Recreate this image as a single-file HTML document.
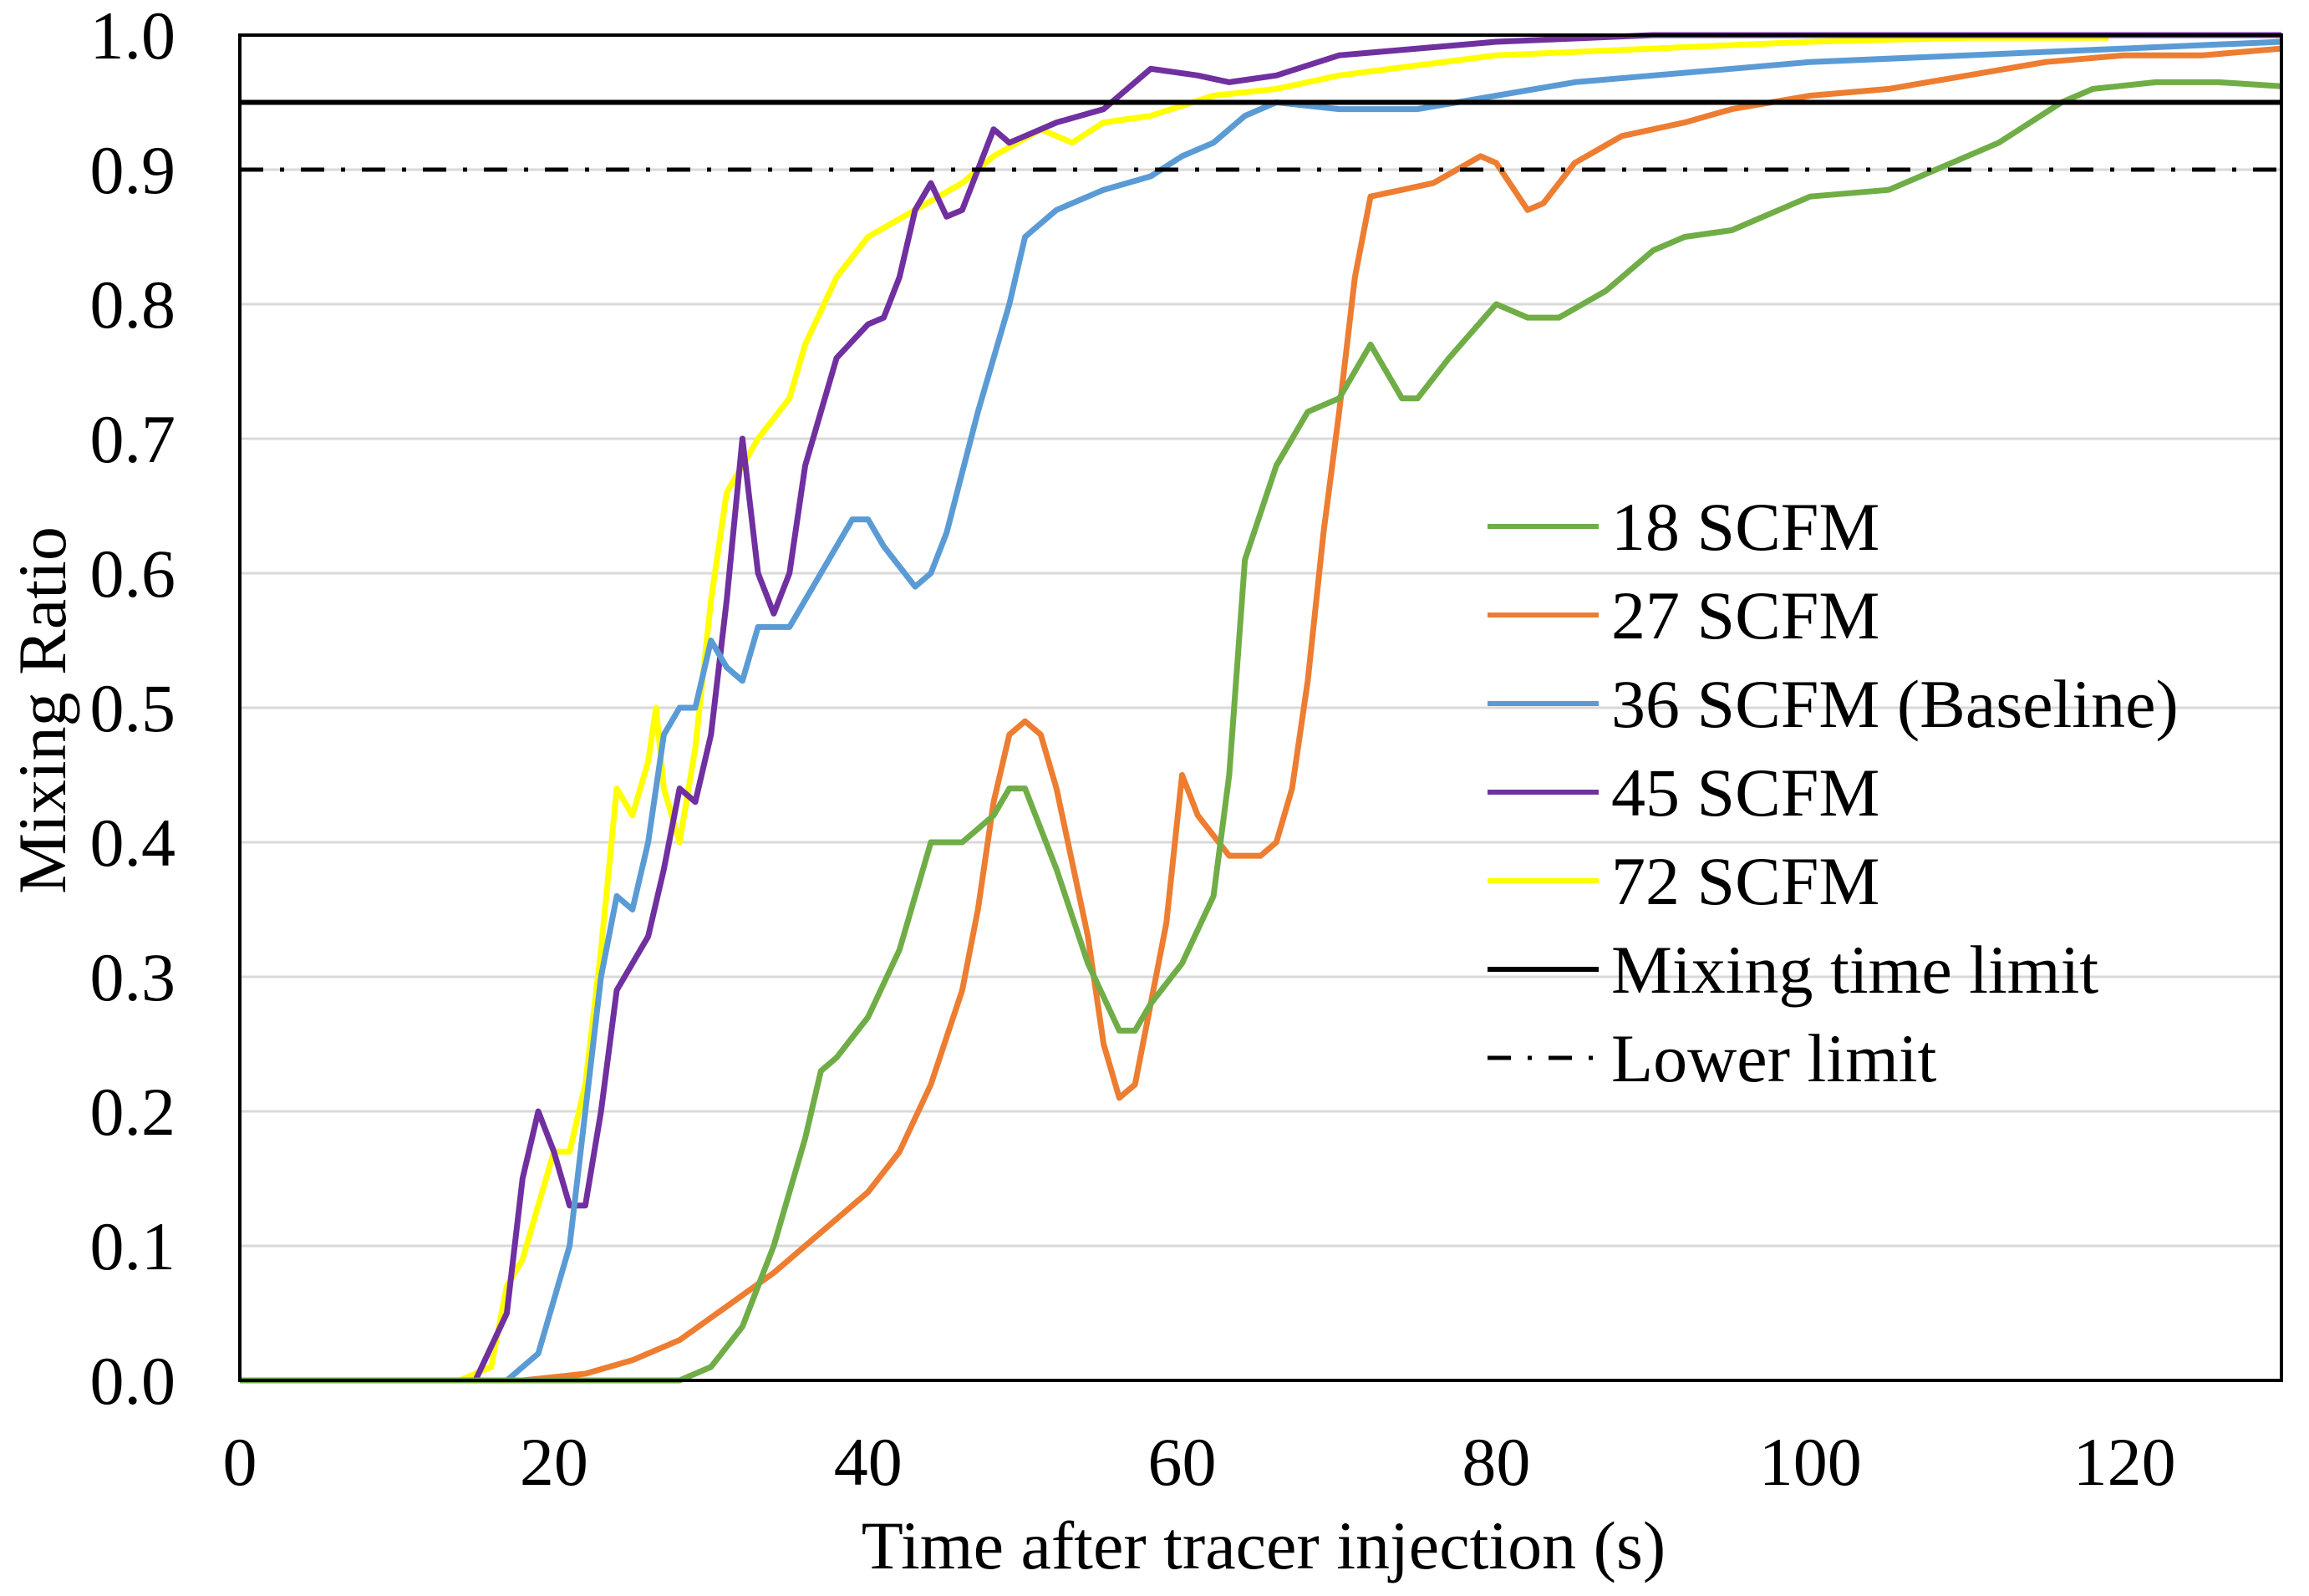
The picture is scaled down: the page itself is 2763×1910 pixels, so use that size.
<!DOCTYPE html>
<html><head><meta charset="utf-8"><style>
html,body{margin:0;padding:0;background:#fff;}
svg{display:block;font-family:"Liberation Serif","Times New Roman",serif;}
</style></head><body>
<svg id="chart" width="2763" height="1910" viewBox="0 0 2763 1910">
<g id="grid"></g>
<g id="series"></g>
<g id="axes"></g>
<g id="legend"></g>
</svg>
<script>
const yTicks=[0,0.1,0.2,0.3,0.4,0.5,0.6,0.7,0.8,0.9,1.0];
const xTicks=[0,20,40,60,80,100,120];
const mixingLimit=0.95;
const lowerLimit=0.90;
const t18=[0,28,30,32,34,36,37,38,40,42,44,46,48,49,50,52,54,56,57,58,60,62,63,64,66,68,70,72,74,75,77,80,82,84,87,90,92,95,98,100,105,108,112,116,118,122,126,130];
const v18=[0,0,0.01,0.04,0.1,0.18,0.23,0.24,0.27,0.32,0.40,0.40,0.42,0.44,0.44,0.38,0.31,0.26,0.26,0.28,0.31,0.36,0.45,0.61,0.68,0.72,0.73,0.77,0.73,0.73,0.76,0.80,0.79,0.79,0.81,0.84,0.85,0.855,0.87,0.88,0.885,0.90,0.92,0.95,0.96,0.965,0.965,0.962];
const t27=[0,18,22,25,28,31,34,37,40,42,44,46,47,48,49,50,51,52,54,55,56,57,58,59,60,61,63,65,66,67,68,69,70,71,72,74,76,79,80,82,83,85,88,92,95,100,105,110,115,120,125,130];
const v27=[0,0,0.005,0.015,0.03,0.055,0.08,0.11,0.14,0.17,0.22,0.29,0.35,0.43,0.48,0.49,0.48,0.44,0.33,0.25,0.21,0.22,0.28,0.34,0.45,0.42,0.39,0.39,0.40,0.44,0.52,0.63,0.72,0.82,0.88,0.885,0.89,0.91,0.905,0.87,0.875,0.905,0.925,0.935,0.945,0.955,0.96,0.97,0.98,0.985,0.985,0.99];
const t36=[0,17,19,21,22,23,24,25,26,27,28,29,30,31,32,33,34,35,37,39,40,41,43,44,45,47,49,50,52,55,58,60,62,64,66,70,75,80,85,90,95,100,110,120,130];
const v36=[0,0,0.02,0.1,0.2,0.3,0.36,0.35,0.4,0.48,0.5,0.5,0.55,0.53,0.52,0.56,0.56,0.56,0.6,0.64,0.64,0.62,0.59,0.6,0.63,0.72,0.8,0.85,0.87,0.885,0.895,0.91,0.92,0.94,0.95,0.945,0.945,0.955,0.965,0.97,0.975,0.98,0.985,0.99,0.995];
const t45=[0,15,17,18,19,20,21,22,23,24,25,26,27,28,29,30,31,32,33,34,35,36,38,40,41,42,43,44,45,46,47,48,49,50,52,55,58,61,63,66,70,75,80,90,130];
const v45=[0,0,0.05,0.15,0.2,0.17,0.13,0.13,0.2,0.29,0.31,0.33,0.38,0.44,0.43,0.48,0.58,0.70,0.6,0.57,0.6,0.68,0.76,0.785,0.79,0.82,0.87,0.89,0.865,0.87,0.9,0.93,0.92,0.925,0.935,0.945,0.975,0.97,0.965,0.97,0.985,0.99,0.995,1.0,1.0];
const t72=[0,14,16,17,18,20,21,22,23,24,25,26,26.5,27,28,29,30,31,33,35,36,38,40,43,46,48,51,53,55,58,62,66,70,80,90,100,110,119];
const v72=[0,0,0.01,0.07,0.09,0.17,0.17,0.22,0.32,0.44,0.42,0.46,0.5,0.44,0.4,0.47,0.58,0.66,0.7,0.73,0.77,0.82,0.85,0.87,0.89,0.91,0.93,0.92,0.935,0.94,0.955,0.96,0.97,0.985,0.99,0.995,0.998,0.998];
const seriesNames=["18 SCFM","27 SCFM","36 SCFM (Baseline)","45 SCFM","72 SCFM"];

const L=287,R=2730,T=42,B=1652,XMAX=130;
const xs=v=>L+v/XMAX*(R-L);
const ys=v=>B-v*(B-T);
const NS="http://www.w3.org/2000/svg";
function mk(tag,attrs,parent){const e=document.createElementNS(NS,tag);for(const k in attrs)e.setAttribute(k,attrs[k]);parent.appendChild(e);return e;}
const grid=document.getElementById('grid'),ser=document.getElementById('series'),axes=document.getElementById('axes'),leg=document.getElementById('legend');
const FS=82;

yTicks.forEach(v=>{
  if(v>0&&v<1){const g=mk('line',{x1:L,x2:R,y1:ys(v),y2:ys(v),stroke:'#d9d9d9','stroke-width':3},grid);
  
  }
  const t=mk('text',{x:210,y:ys(v)+28,'text-anchor':'end','font-size':FS},axes);
  t.textContent=v.toFixed(1);
  
  
});
xTicks.forEach(v=>{
  const t=mk('text',{x:xs(v),y:1777,'text-anchor':'middle','font-size':FS},axes);
  t.textContent=v;
  
  
});

const colors=['#70ad47','#ed7d31','#5b9bd5','#7030a0','#ffff00'];
const data=[[t18,v18],[t27,v27],[t36,v36],[t45,v45],[t72,v72]];
const order=[4,3,2,1,0];
order.forEach(i=>{
  const [t,v]=data[i];
  const d=t.map((x,j)=>(j?'L':'M')+xs(x).toFixed(1)+','+ys(v[j]).toFixed(1)).join('');
  const p=mk('path',{d:d,fill:'none',stroke:colors[i],'stroke-width':7,'stroke-linejoin':'round'},ser);
  
  
});
const ml=mk('line',{x1:L,x2:R,y1:ys(mixingLimit),y2:ys(mixingLimit),stroke:'#000','stroke-width':6},ser);


const ll=mk('line',{x1:L,x2:R,y1:ys(lowerLimit),y2:ys(lowerLimit),stroke:'#000','stroke-width':5,'stroke-dasharray':'28,20,5,20'},ser);



const frame=mk('rect',{x:L,y:T,width:R-L,height:B-T,fill:'none',stroke:'#000','stroke-width':4},axes);


const xt=mk('text',{x:1512,y:1877,'text-anchor':'middle','font-size':FS},axes);
xt.textContent='Time after tracer injection (s)';


const yt=mk('text',{x:0,y:0,'text-anchor':'middle','font-size':FS,transform:'translate(78,850) rotate(-90)'},axes);
yt.textContent='Mixing Ratio';



const labels=seriesNames.concat(['Mixing time limit','Lower limit']);
labels.forEach((lab,i)=>{
  const y=630+i*106;
  const g=mk('g',{},leg);
  
  
  const attrs={x1:1780,x2:1913,y1:y,y2:y,stroke:i<5?colors[i]:'#000','stroke-width':6};
  if(i===6){attrs['stroke-dasharray']='28,20,5,20';attrs['stroke-width']=5;}
  mk('line',attrs,g);
  const t=mk('text',{x:1928,y:y+28,'font-size':FS},g);
  t.textContent=lab;
});
</script>
</body></html>
